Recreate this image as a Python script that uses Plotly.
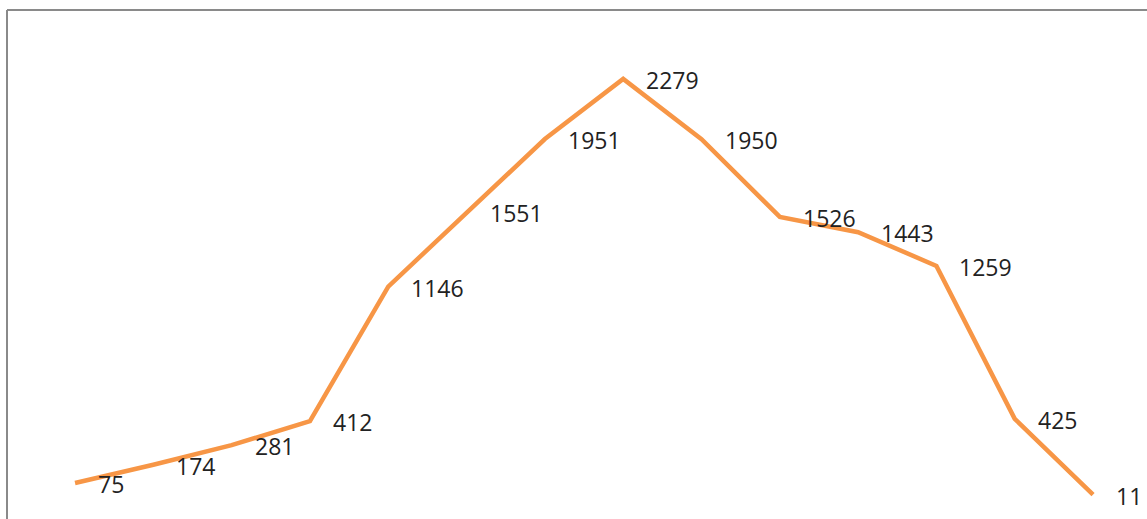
import plotly.graph_objects as go

categories = list(range(14))
values = [75, 174, 281, 412, 1146, 1551, 1951, 2279, 1950, 1526, 1443, 1259, 425, 11]
labels = [str(v) for v in values]

fig = go.Figure()
fig.add_trace(go.Scatter(
    x=categories, y=values, mode="lines",
    line=dict(color="#F79646", width=4.5),
    hoverinfo="skip", showlegend=False,
))

for x, y, t in zip(categories, values, labels):
    fig.add_annotation(
        x=x, y=y, text=t, showarrow=False,
        xanchor="left", yanchor="middle", xshift=21, yshift=-1,
        font=dict(family="Open Sans", size=23, color="#222222"),
    )

W, H = 1147, 519
fig.add_shape(type="line", xref="paper", yref="paper",
              x0=7 / W, x1=7 / W, y0=0, y1=1 - 10 / H,
              line=dict(color="#8A8A8A", width=2))
fig.add_shape(type="line", xref="paper", yref="paper",
              x0=7 / W, x1=1, y0=1 - 10 / H, y1=1 - 10 / H,
              line=dict(color="#8A8A8A", width=2))

fig.update_layout(
    width=W, height=H,
    margin=dict(l=0, r=0, t=0, b=0),
    paper_bgcolor="white", plot_bgcolor="white",
    xaxis=dict(visible=False, range=[-0.958, 13.689]),
    yaxis=dict(visible=False, range=[-121.7, 2709.7]),
)

fig.write_html("out.html", config={"displayModeBar": False},
               post_script="document.body.style.margin='0';document.body.style.overflow='hidden';")
